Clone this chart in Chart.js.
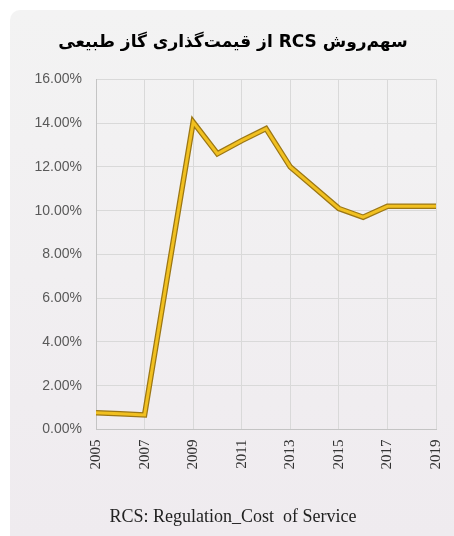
<!DOCTYPE html>
<html>
<head>
<meta charset="utf-8">
<script src="https://cdn.jsdelivr.net/npm/chart.js@4/dist/chart.umd.min.js"></script>
<style>
  html, body { margin: 0; padding: 0; background: #ffffff; overflow: hidden; }
  #panel {
    position: absolute; left: 10px; top: 10px;
    width: 466px; height: 526px;
    border-radius: 10px 0 0 0;
    background: linear-gradient(to bottom, #f3f3f3, #efebef);
  }
</style>
</head>
<body>
<div id="panel"><canvas id="rcs-chart" width="466" height="526"></canvas></div>
<script>
// share of the RCS method in natural gas pricing, per year
const years = [2005, 2006, 2007, 2008, 2009, 2010, 2011, 2012, 2013, 2014, 2015, 2016, 2017, 2018, 2019];
const shares = [0.76, 0.71, 0.66, 7.4, 14.05, 12.6, 13.2, 13.75, 12.0, 11.05, 10.1, 9.7, 10.2, 10.2, 10.2];

const titleText = 'سهم‌روش RCS از قیمت‌گذاری گاز طبیعی';
const footText = 'RCS: Regulation_Cost  of Service';

const points = years.map((y, i) => ({ x: y, y: shares[i] }));

new Chart(document.getElementById('rcs-chart'), {
    type: 'line',
    data: {
        datasets: [
            {   // yellow core, drawn on top
                data: points,
                borderColor: '#f1c020',
                borderWidth: 3,
                borderJoinStyle: 'miter',
                pointRadius: 0,
                fill: false,
                order: 1
            },
            {   // dark edge underneath
                data: points,
                borderColor: '#9c7714',
                borderWidth: 5.5,
                borderJoinStyle: 'miter',
                pointRadius: 0,
                fill: false,
                order: 2
            }
        ]
    },
    options: {
        responsive: false,
        animation: false,
        layout: { padding: { top: 22, right: 40, bottom: 8, left: 20 } },
        scales: {
            x: {
                type: 'linear',
                min: 2005,
                max: 2019,
                afterFit: (scale) => { scale.height = 77; },
                ticks: {
                    stepSize: 2,
                    minRotation: 90,
                    maxRotation: 90,
                    padding: 10,
                    color: '#333333',
                    font: { family: '"Liberation Serif", serif', size: 15 },
                    callback: (v) => String(v)
                },
                grid: { color: '#d9d9d9', drawTicks: false },
                border: { color: '#c4c4c4' }
            },
            y: {
                min: 0,
                max: 16,
                afterFit: (scale) => { scale.width = 66; },
                ticks: {
                    stepSize: 2,
                    padding: 14,
                    color: '#595959',
                    font: { family: '"Liberation Sans", sans-serif', size: 14 },
                    callback: (v) => v.toFixed(2) + '%'
                },
                grid: { color: '#d9d9d9', drawTicks: false },
                border: { color: '#c4c4c4' }
            }
        },
        plugins: {
            legend: { display: false },
            tooltip: { enabled: false },
            title: {
                display: true,
                text: '\u202B' + titleText + '\u202C',
                color: '#000000',
                font: { family: '"DejaVu Sans", sans-serif', size: 17, weight: 'bold' },
                padding: { top: 0, bottom: 27 }
            },
            subtitle: {
                display: true,
                position: 'bottom',
                text: footText,
                color: '#222222',
                font: { family: '"Liberation Serif", serif', size: 18 },
                padding: { top: 0, bottom: 0 }
            }
        }
    }
});
</script>
</body>
</html>
